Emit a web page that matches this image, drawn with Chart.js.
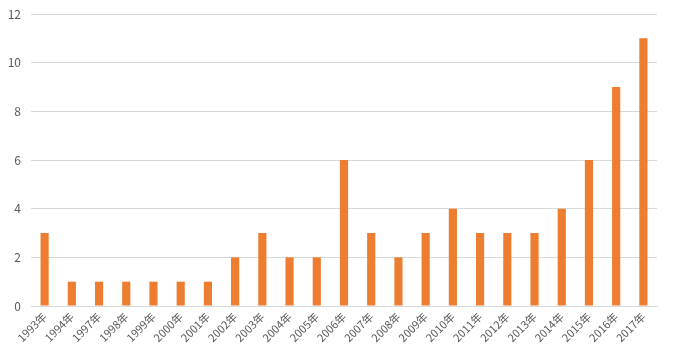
<!DOCTYPE html>
<html>
<head>
<meta charset="utf-8">
<script src="https://cdn.jsdelivr.net/npm/chart.js@4.4.0/dist/chart.umd.min.js"></script>
<style>
  html, body { margin: 0; padding: 0; background: #fff; }
  #wrap { width: 680px; height: 363px; position: relative; }
</style>
</head>
<body>
<div id="wrap"><canvas id="yearChart"></canvas></div>
<script>
// 年份
const years = ['1993年', '1994年', '1997年', '1998年', '1999年', '2000年', '2001年', '2002年',
  '2003年', '2004年', '2005年', '2006年', '2007年', '2008年', '2009年', '2010年', '2011年',
  '2012年', '2013年', '2014年', '2015年', '2016年', '2017年'];
// 数量
const counts = [3, 1, 1, 1, 1, 1, 1, 2, 3, 2, 2, 6, 3, 2, 3, 4, 3, 3, 3, 4, 6, 9, 11];
// y 轴刻度
const yTicks = [0, 2, 4, 6, 8, 10, 12];

const ctx = document.getElementById('yearChart').getContext('2d');
const yearChart = new Chart(ctx, {
  type: 'bar',
  data: {
    labels: years,
    datasets: [{
      data: counts,
      backgroundColor: '#ED7D31',
      barPercentage: 0.3,
      categoryPercentage: 1
    }]
  },
  options: {
    responsive: true,
    maintainAspectRatio: false,
    animation: false,
    layout: { padding: { top: 14, right: 23, left: 0, bottom: 0 } },
    plugins: { legend: { display: false }, tooltip: { enabled: false } },
    scales: {
      x: {
        grid: { display: false, drawTicks: false },
        border: { color: '#d9d9d9' },
        ticks: {
          color: '#595959',
          font: { family: 'Noto Sans CJK SC', size: 11 },
          minRotation: 45,
          maxRotation: 45,
          autoSkip: false,
          padding: 4
        },
        afterFit: axis => { axis.height = 57; }
      },
      y: {
        min: 0,
        max: 12,
        afterBuildTicks: axis => { axis.ticks = yTicks.map(v => ({ value: v })); },
        grid: { color: '#d9d9d9', drawTicks: false },
        border: { display: false },
        ticks: {
          color: '#595959',
          font: { family: 'Noto Sans CJK SC', size: 12 },
          padding: 10
        },
        afterFit: axis => { axis.width = 31; axis.paddingTop = 0; axis.paddingBottom = 0; }
      }
    }
  }
});
</script>
</body>
</html>
